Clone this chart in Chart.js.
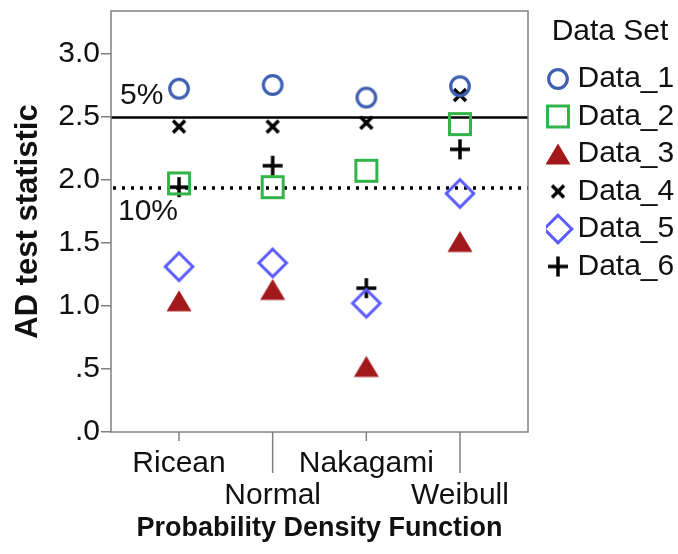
<!DOCTYPE html>
<html>
<head>
<meta charset="utf-8">
<title>AD test statistic</title>
<script src="https://cdn.jsdelivr.net/npm/chart.js@4"></script>
<style>
  html, body { margin: 0; padding: 0; background: #fff; }
  #wrap { width: 678px; height: 554px; }
</style>
</head>
<body>
<div id="wrap"><canvas id="adChart"></canvas></div>
<script>
const categories = ['Ricean', 'Normal', 'Nakagami', 'Weibull'];
const data1 = [2.72, 2.75, 2.65, 2.74];
const data2 = [1.97, 1.94, 2.07, 2.44];
const data3 = [1.04, 1.13, 0.52, 1.51];
const data4 = [2.42, 2.42, 2.45, 2.67];
const data5 = [1.31, 1.34, 1.02, 1.89];
const data6 = [1.94, 2.11, 1.14, 2.24];
const yTicks = [0, 0.5, 1, 1.5, 2, 2.5, 3];
const crit5 = 2.492;
const crit10 = 1.933;

Chart.defaults.font.family = "'Liberation Sans', Arial, sans-serif";

// small canvases used as point styles (same image shows in the legend)
function marker(draw) {
    const c = document.createElement('canvas');
    c.width = 36;
    c.height = 36;
    const g = c.getContext('2d');
    g.translate(18, 18);
    draw(g);
    return c;
}

const circle = marker(g => {
    g.beginPath();
    g.arc(0, 0, 9.3, 0, Math.PI * 2);
    g.lineWidth = 3.2;
    g.strokeStyle = '#3f5fb3';
    g.stroke();
});
const square = marker(g => {
    g.lineWidth = 3;
    g.strokeStyle = '#33b44a';
    g.strokeRect(-10.5, -10.5, 21, 21);
});
const triangle = marker(g => {
    g.beginPath();
    g.moveTo(0, -10.5);
    g.lineTo(12.5, 10.5);
    g.lineTo(-12.5, 10.5);
    g.closePath();
    g.fillStyle = '#a3191b';
    g.fill();
});
const cross = marker(g => {
    g.beginPath();
    g.moveTo(-6, -6); g.lineTo(6, 6);
    g.moveTo(6, -6); g.lineTo(-6, 6);
    g.lineWidth = 3.5;
    g.strokeStyle = '#000';
    g.stroke();
});
const diamond = marker(g => {
    g.beginPath();
    g.moveTo(0, -13.8); g.lineTo(13.8, 0); g.lineTo(0, 13.8); g.lineTo(-13.8, 0);
    g.closePath();
    g.lineWidth = 3;
    g.strokeStyle = '#5b5cff';
    g.stroke();
});
const plus = marker(g => {
    g.beginPath();
    g.moveTo(-10, 0); g.lineTo(10, 0);
    g.moveTo(0, -10); g.lineTo(0, 10);
    g.lineWidth = 3.5;
    g.strokeStyle = '#000';
    g.stroke();
});

const series = [
    { label: 'Data_1', values: data1, style: circle },
    { label: 'Data_2', values: data2, style: square },
    { label: 'Data_3', values: data3, style: triangle },
    { label: 'Data_4', values: data4, style: cross },
    { label: 'Data_5', values: data5, style: diamond },
    { label: 'Data_6', values: data6, style: plus }
];

// plot frame, x tick marks, and the 5% / 10% critical lines
const decorations = {
    id: 'decorations',
    beforeDatasetsDraw(chart) {
        const { ctx, chartArea: a, scales: { y } } = chart;
        ctx.save();
        ctx.strokeStyle = '#000';
        const py5 = y.getPixelForValue(crit5);
        ctx.lineWidth = 2.5;
        ctx.beginPath();
        ctx.moveTo(a.left, py5);
        ctx.lineTo(a.right, py5);
        ctx.stroke();

        const py10 = y.getPixelForValue(crit10);
        ctx.lineWidth = 3.5;
        ctx.setLineDash([3, 6]);
        ctx.beginPath();
        ctx.moveTo(a.left + 2, py10);
        ctx.lineTo(a.right, py10);
        ctx.stroke();
        ctx.setLineDash([]);

        ctx.fillStyle = '#111';
        ctx.font = "30px 'Liberation Sans', Arial, sans-serif";
        ctx.textBaseline = 'middle';
        ctx.fillText('5%', a.left + 9, py5 - 22);
        ctx.fillText('10%', a.left + 7, py10 + 24);
        ctx.restore();
    },
    afterDraw(chart) {
        const { ctx, chartArea: a, scales: { x } } = chart;
        ctx.save();
        ctx.strokeStyle = '#808080';
        ctx.lineWidth = 1.5;
        ctx.strokeRect(a.left, a.top, a.right - a.left, a.bottom - a.top);
        categories.forEach((c, i) => {
            const px = x.getPixelForValue(i);
            ctx.beginPath();
            ctx.moveTo(px, a.bottom);
            ctx.lineTo(px, a.bottom + (i % 2 ? 41 : 9));
            ctx.stroke();
        });
        ctx.restore();
    }
};

new Chart(document.getElementById('adChart'), {
    type: 'scatter',
    data: {
        datasets: series.map(s => ({
            label: s.label,
            data: s.values.map((v, i) => ({ x: i, y: v })),
            pointStyle: s.style,
            pointRadius: 10,
            showLine: false
        }))
    },
    options: {
        responsive: true,
        maintainAspectRatio: false,
        animation: false,
        events: [],
        layout: { padding: { top: 5, right: 4, bottom: 0, left: 0 } },
        scales: {
            x: {
                type: 'linear',
                min: -0.726,
                max: 3.726,
                afterBuildTicks: s => { s.ticks = categories.map((c, i) => ({ value: i })); },
                afterFit: s => {
                    s.height = 122;
                    s.paddingLeft = 0;
                    s.paddingRight = 0;
                },
                grid: { display: false, drawTicks: false },
                border: { display: false },
                ticks: {
                    autoSkip: false,
                    maxRotation: 0,
                    minRotation: 0,
                    padding: 16,
                    color: '#111',
                    font: { size: 30, lineHeight: 1.05 },
                    callback: v => (v % 2 ? ['', categories[v]] : categories[v])
                },
                title: {
                    display: true,
                    text: 'Probability Density Function',
                    color: '#111',
                    font: { size: 27, weight: 'bold' },
                    padding: { top: 0, bottom: 9 }
                }
            },
            y: {
                type: 'linear',
                min: 0,
                max: 3.336,
                afterBuildTicks: s => { s.ticks = yTicks.map(v => ({ value: v })); },
                afterFit: s => {
                    s.width = 111;
                    s.paddingTop = 0;
                    s.paddingBottom = 0;
                },
                grid: { drawOnChartArea: false, tickLength: 10, color: '#808080', lineWidth: 1.5 },
                border: { display: false },
                ticks: {
                    padding: 1,
                    color: '#111',
                    font: { size: 30 },
                    callback: v => v.toFixed(1).replace(/^0/, '')
                },
                title: {
                    display: true,
                    text: 'AD test statistic',
                    color: '#111',
                    font: { size: 31, weight: 'bold' },
                    padding: { top: 10, bottom: 0 }
                }
            },
            gap: {
                type: 'linear',
                position: 'right',
                grid: { display: false },
                ticks: { display: false },
                border: { display: false },
                afterFit: s => {
                    s.width = 18;
                    s.paddingTop = 0;
                    s.paddingBottom = 0;
                }
            }
        },
        plugins: {
            tooltip: { enabled: false },
            legend: {
                position: 'right',
                align: 'start',
                maxWidth: 128,
                title: {
                    display: true,
                    text: 'Data Set',
                    color: '#111',
                    font: { size: 30 },
                    padding: { top: 12, bottom: 3.5 }
                },
                labels: {
                    usePointStyle: true,
                    boxWidth: 9,
                    padding: 7.5,
                    color: '#111',
                    font: { size: 30 }
                }
            }
        }
    },
    plugins: [decorations]
});
</script>
</body>
</html>
